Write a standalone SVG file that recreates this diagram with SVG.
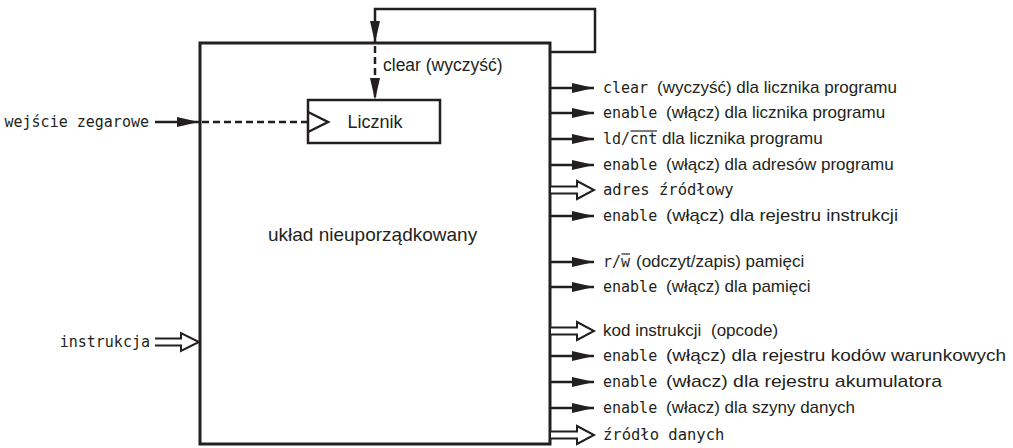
<svg xmlns="http://www.w3.org/2000/svg" width="1013" height="448" viewBox="0 0 1013 448">
<style>
.ln{stroke:#231f20;stroke-width:2.5;fill:none}
.dash{stroke-dasharray:7 4}
.box{fill:#fff;stroke:#231f20;stroke-width:3}
.hol{fill:#fff;stroke:#231f20;stroke-width:2}
.mono{font-family:"DejaVu Sans Mono","Liberation Mono",monospace;font-size:15px;fill:#231f20}
.sans{font-family:"Liberation Sans","Noto Sans",sans-serif;font-size:17px;fill:#231f20}
.big{font-family:"Liberation Sans","Noto Sans",sans-serif;font-size:18px;fill:#231f20}
.ov{stroke:#231f20;stroke-width:1.2}
</style>
<defs>
<marker id="ah" markerUnits="userSpaceOnUse" markerWidth="22" markerHeight="12" refX="22" refY="6" orient="auto"><path d="M0,1 L22,6 L0,11 z" fill="#231f20"/></marker>
</defs>
<g id="uklad">
<rect class="box" x="200" y="43" width="350" height="401"/>
<text class="big" x="268" y="241" style="font-size:19px">układ nieuporządkowany</text>
</g>
<g id="licznik">
<rect x="308" y="100" width="132" height="43" fill="#fff" stroke="#231f20" stroke-width="2.5"/>
<polyline class="ln" points="308,112 328,122 308,132"/>
<text class="big" x="375" y="128" text-anchor="middle">Licznik</text>
</g>
<g id="connectors">
<path class="ln" d="M551,52 H595 V9 H375 V43" marker-end="url(#ah)"/>
<path class="ln dash" d="M375,46 V100" marker-end="url(#ah)"/>
<text class="big" x="383" y="71" style="font-size:17.5px">clear (wyczyść)</text>
<path class="ln" d="M155,122 H199" marker-end="url(#ah)"/>
<path class="ln dash" d="M202,122 H308"/>
<text class="mono" x="149" y="127" text-anchor="end">wejście zegarowe</text>
<path class="hol" d="M155,338.5 H181 V333 L199,342 L181,351 V345.5 H155"/>
<text class="mono" x="150" y="347" text-anchor="end">instrukcja</text>
<path class="ln" d="M551,88 H594" marker-end="url(#ah)"/>
<path class="ln" d="M551,113 H594" marker-end="url(#ah)"/>
<path class="ln" d="M551,139 H594" marker-end="url(#ah)"/>
<path class="ln" d="M551,165 H594" marker-end="url(#ah)"/>
<path class="hol" d="M551,186.5 H577 V181 L594,190 L577,199 V193.5 H551"/>
<path class="ln" d="M551,216 H594" marker-end="url(#ah)"/>
<path class="ln" d="M551,262 H594" marker-end="url(#ah)"/>
<path class="ln" d="M551,287 H594" marker-end="url(#ah)"/>
<path class="hol" d="M551,327.5 H577 V322 L594,331 L577,340 V334.5 H551"/>
<path class="ln" d="M551,356 H594" marker-end="url(#ah)"/>
<path class="ln" d="M551,382 H594" marker-end="url(#ah)"/>
<path class="ln" d="M551,408 H594" marker-end="url(#ah)"/>
<path class="hol" d="M551,431.5 H577 V426 L594,435 L577,444 V438.5 H551"/>
</g>
<g id="outputs">
<text class="mono" x="603" y="93">clear</text>
<text class="sans" x="657" y="93">(wyczyść) dla licznika programu</text>
<text class="mono" x="603" y="118">enable</text>
<text class="sans" x="666" y="118">(włącz) dla licznika programu</text>
<text class="mono" x="603" y="144">ld/cnt</text>
<text class="sans" x="662" y="144">dla licznika programu</text>
<line class="ov" x1="630.5" y1="131" x2="657" y2="131"/>
<text class="mono" x="603" y="170">enable</text>
<text class="sans" x="666" y="170">(włącz) dla adresów programu</text>
<text class="mono" x="603" y="195" style="font-size:15.5px">adres źródłowy</text>
<text class="mono" x="603" y="221">enable</text>
<text class="sans" x="666" y="221" textLength="232" lengthAdjust="spacingAndGlyphs">(włącz) dla rejestru instrukcji</text>
<text class="mono" x="603" y="267">r/w</text>
<text class="sans" x="636" y="267">(odczyt/zapis) pamięci</text>
<line class="ov" x1="621.5" y1="254" x2="630" y2="254"/>
<text class="mono" x="603" y="292">enable</text>
<text class="sans" x="666" y="292">(włącz) dla pamięci</text>
<text class="sans" x="603" y="336">kod instrukcji <tspan dx="5">(opcode)</tspan></text>
<text class="mono" x="603" y="361">enable</text>
<text class="sans" x="666" y="361" textLength="340" lengthAdjust="spacingAndGlyphs">(włącz) dla rejestru kodów warunkowych</text>
<text class="mono" x="603" y="387">enable</text>
<text class="sans" x="666" y="387" textLength="276" lengthAdjust="spacingAndGlyphs">(włacz) dla rejestru akumulatora</text>
<text class="mono" x="603" y="413">enable</text>
<text class="sans" x="666" y="413">(włacz) dla szyny danych</text>
<text class="mono" x="603" y="440" style="font-size:15.5px">źródło danych</text>
</g>
</svg>
